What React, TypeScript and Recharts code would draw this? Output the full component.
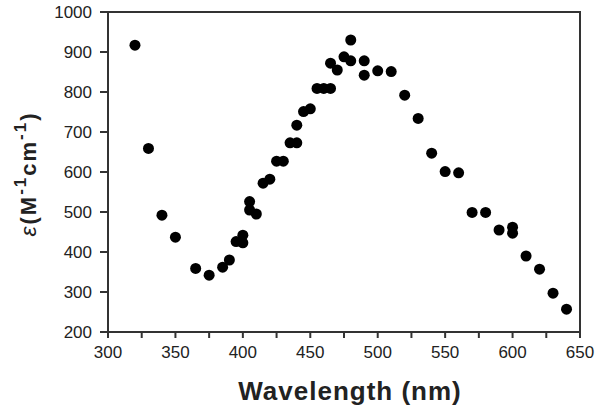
import React from 'react';
import { ScatterChart, Scatter, XAxis, YAxis, ReferenceArea } from 'recharts';

// Molar absorptivity vs wavelength
const wavelength = [320, 330, 340, 350, 365, 375, 385, 390, 395, 400, 400, 405, 405, 410, 415, 420, 425, 430, 435, 440, 440, 445, 450, 455, 460, 465, 465, 470, 475, 480, 480, 490, 490, 500, 510, 520, 530, 540, 550, 560, 570, 580, 590, 600, 600, 610, 620, 630, 640];
const epsilon = [917, 659, 492, 437, 359, 342, 362, 380, 426, 442, 423, 526, 505, 495, 572, 582, 627, 627, 673, 673, 717, 751, 758, 809, 809, 809, 872, 855, 888, 930, 878, 878, 842, 853, 851, 792, 734, 647, 601, 598, 499, 499, 455, 462, 447, 390, 357, 297, 257];

const xTicks = [300, 325, 350, 375, 400, 425, 450, 475, 500, 525, 550, 575, 600, 625, 650];
const yTicks = [200, 300, 400, 500, 600, 700, 800, 900, 1000];

const data = wavelength.map((w, i) => ({ wl: w, eps: epsilon[i] }));

const FONT = 'Arial, "Liberation Sans", sans-serif';
const INK = '#222';

const renderXTitle = () => (
  <text x={350} y={400} textAnchor="middle" fontFamily={FONT} fontWeight="bold" fontSize={26} letterSpacing={1} fill={INK}>
    Wavelength (nm)
  </text>
);

const renderYTitle = () => (
  <text
    x={0}
    y={0}
    transform="translate(36, 174) rotate(-90)"
    textAnchor="middle"
    fontFamily={FONT}
    fontWeight="bold"
    fontSize={22}
    letterSpacing={2}
    fill={INK}
  >
    <tspan fontStyle="italic" fontWeight="normal" fontSize={23}>ε</tspan>
    <tspan>(M</tspan>
    <tspan fontSize={17} dy={-10}>-1</tspan>
    <tspan dy={10}>cm</tspan>
    <tspan fontSize={17} dy={-10}>-1</tspan>
    <tspan dy={10}>)</tspan>
  </text>
);

const App: React.FC = () => {
  return (
    <div style={{ position: 'absolute', left: 0, top: 0, background: '#fff' }}>
      <ScatterChart width={600} height={409} margin={{ top: 12, right: 20, bottom: 0, left: 0 }}>
        <XAxis
          type="number"
          dataKey="wl"
          domain={[300, 650]}
          ticks={xTicks}
          interval={0}
          tickFormatter={(v: number) => (v % 50 === 0 ? String(v) : '')}
          height={77}
          tickSize={6}
          tickMargin={8}
          stroke="#333"
          strokeWidth={2}
          tick={{ fill: INK, fontSize: 17, fontFamily: FONT }}
          label={{ content: renderXTitle }}
        />
        <YAxis
          type="number"
          dataKey="eps"
          domain={[200, 1000]}
          ticks={yTicks}
          interval={0}
          width={108}
          tickSize={8}
          tickMargin={8}
          stroke="#333"
          strokeWidth={2}
          tick={{ fill: INK, fontSize: 17, fontFamily: FONT }}
          label={{ content: renderYTitle }}
        />
        <ReferenceArea x1={300} x2={650} y1={200} y2={1000} fill="none" stroke="#333" strokeWidth={2} />
        <Scatter data={data} fill="#000" shape={(p: any) => <circle cx={p.cx} cy={p.cy} r={5.5} fill="#000" />} isAnimationActive={false} />
      </ScatterChart>
    </div>
  );
};

export default App;
